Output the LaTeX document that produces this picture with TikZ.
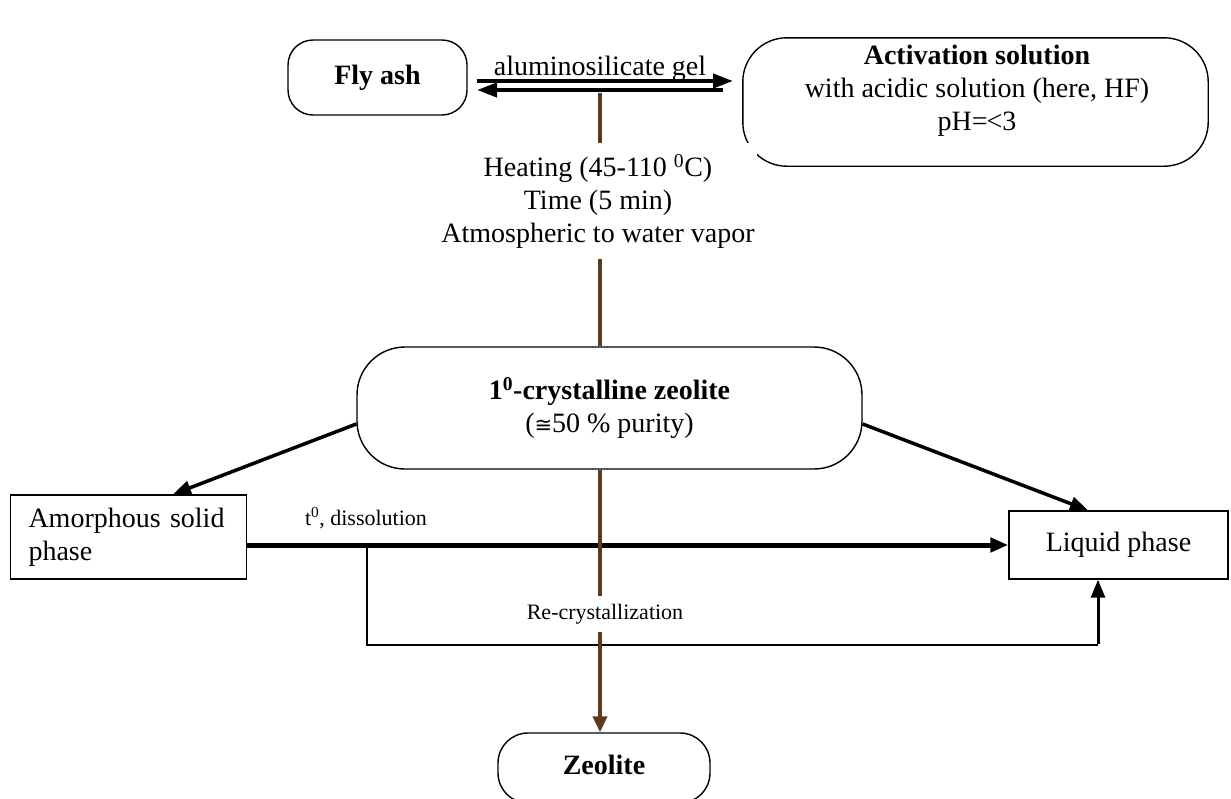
\documentclass[tikz,border=0pt]{standalone}
\usepackage{fontspec}
\setmainfont{Liberation Serif}
\newfontfamily\symf{DejaVu Sans}
\usetikzlibrary{arrows.meta}
\definecolor{brn}{RGB}{92,58,30}
\begin{document}
\begin{tikzpicture}[x=1pt,y=-1pt,
  base/.style={font=\fontsize{28}{33}\selectfont},
  small/.style={font=\fontsize{22}{26}\selectfont},
  rbox/.style={draw, line width=1.4pt, align=center, inner sep=0pt, base},
  sbox/.style={draw, line width=1.4pt, inner sep=0pt, base},
  tip/.style={-{Triangle[length=18pt,width=14pt]}},
  thin/.style={line width=1.4pt},
  brline/.style={brn, line width=4pt},
  cover/.style={fill=white, inner xsep=2pt}
]
\useasboundingbox (0,0) rectangle (1231,798);
% boxes
\node[rbox, rounded corners=25pt, minimum width=179pt, minimum height=75pt] (fly) at (377.5,77.5) {\bfseries Fly ash};
\node[inner sep=0pt, minimum width=465pt, minimum height=128pt] (act) at (975.5,102) {};
\draw[line width=1.4pt, rounded corners=44pt] (act.north) -- (act.north east) -- (act.south east) -- (act.south west) -- (act.north west) -- cycle;
\node[base, align=center, inner sep=0pt] (acttext) at (977,91)
  {\bfseries Activation solution\\with acidic solution (here, HF)\\pH=\kern-1pt<3};
\node[rbox, rounded corners=48pt, minimum width=505pt, minimum height=122pt] (cryst) at (609.5,408)
  {\bfseries 1\textsuperscript{0}-crystalline zeolite\\({\symf\fontsize{21}{26}\selectfont ≅}50 \% purity)};
\node[sbox, minimum width=235pt, minimum height=84pt, text width=200pt, align=left, inner xsep=18pt] (amor) at (128.5,537)
  {Amorphous solid\\phase};
\node[sbox, minimum width=219pt, minimum height=68pt, align=center] (liq) at (1118.5,545) {Liquid phase};
\node[rbox, rounded corners=30pt, minimum width=212pt, minimum height=70pt] (zeo) at (604,768) {};
\node[base, inner sep=0pt] (zeotext) at (604,765) {\bfseries Zeolite};
% coordinates
\coordinate (ta) at (477,81);
\coordinate (tb) at (733,81);
\coordinate (ba) at (723,90);
\coordinate (bb) at (477,90);
\coordinate (bt) at (600,93);
\coordinate (bend1) at (367,545);
\coordinate (bend2) at (367,645);
\coordinate (bend3) at (1098,645);
% double arrow between fly ash and activation solution
\draw[line width=4pt, -{Triangle[length=20pt,width=14pt]}] (ta) -- (tb);
\draw[line width=4pt, -{Triangle[length=20pt,width=14pt]}] (ba) -- (bb);
\node[base, anchor=base] (gel) at (600,75) {aluminosilicate gel};
% black connectors
\draw[line width=3.5pt, tip] ([yshift=-16pt]cryst.west) -- ([xshift=44.5pt]amor.north);
\draw[line width=3.5pt, tip] ([yshift=-16pt]cryst.east) -- ([xshift=-30.5pt]liq.north);
\draw[line width=5pt, tip] (amor.east |- liq.west) -- (liq.west);
\draw[thin] (bend1) -- (bend2) -- (bend3);
\draw[line width=3pt, tip] ([yshift=0.7pt]bend3) -- (liq.south -| bend3);
% brown process line
\draw[brline] (bt) -- (cryst.north -| bt);
\draw[brline, -{Triangle[length=16pt,width=14pt]}] (cryst.south -| bt) -- (zeo.north -| bt);
% labels
\node[base, cover, align=center, inner ysep=11pt] (heat) at (598,201)
  {Heating (45-110 \textsuperscript{0}C)\\Time (5 min)\\Atmospheric to water vapor};
\node[small, cover, inner ysep=8pt] (recr) at (605,614) {Re-crystallization};
\node[small] (diss) at (366,518) {t\textsuperscript{0}, dissolution};
\end{tikzpicture}
\end{document}
